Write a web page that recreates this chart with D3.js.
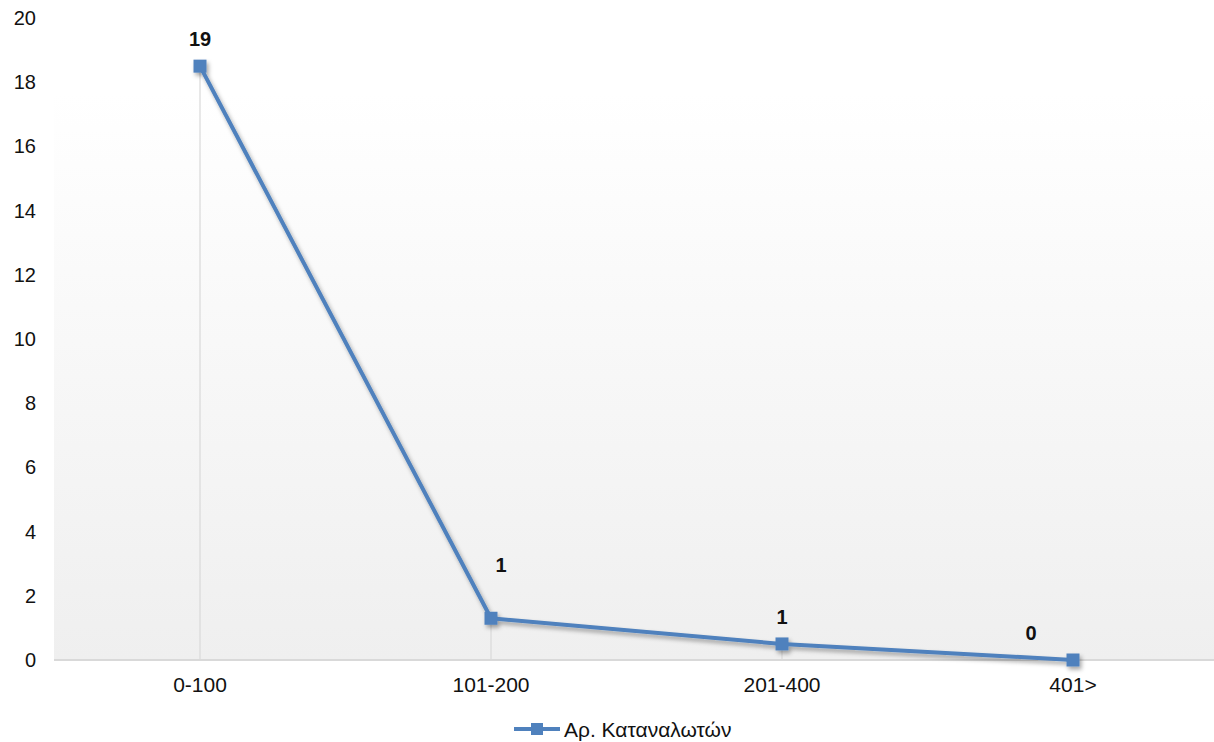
<!DOCTYPE html>
<html><head><meta charset="utf-8">
<script src="https://cdn.jsdelivr.net/npm/d3@7/dist/d3.min.js"></script>
<style>
html,body{margin:0;padding:0;background:#fff;}
text{font-family:"Liberation Sans",Arial,sans-serif;}
</style></head>
<body>
<svg id="chart" width="1214" height="742"></svg>
<script>
const categories = ["0-100", "101-200", "201-400", "401>"];
const values = [18.5, 1.3, 0.5, 0];
const valueLabels = ["19", "1", "1", "0"];
const yTicks = [0, 2, 4, 6, 8, 10, 12, 14, 16, 18, 20];
const seriesName = "Αρ. Καταναλωτών";
// label nudges (layout, px)
const labelDx = [0, 10, 0, -42];
const labelDy = [-27, -53, -27, -27];

const svg = d3.select("#chart");
const color = "#4f81bd";
const x = d3.scaleBand().domain(categories).range([54.5, 1218.5]);
const y = d3.scaleLinear().domain([0, 20]).range([660, 18]);
const cx = c => x(c) + x.bandwidth() / 2;

const defs = svg.append("defs");
const grad = defs.append("linearGradient").attr("id", "bg").attr("x1", 0).attr("y1", 0).attr("x2", 0).attr("y2", 1);
grad.append("stop").attr("offset", "0%").attr("stop-color", "#ffffff");
grad.append("stop").attr("offset", "100%").attr("stop-color", "#efefef");
const f = defs.append("filter").attr("id", "sh").attr("x", "-20%").attr("y", "-20%").attr("width", "140%").attr("height", "140%");
f.append("feDropShadow").attr("dx", 2).attr("dy", 3).attr("stdDeviation", 2).attr("flood-color", "#000").attr("flood-opacity", 0.35);

svg.append("rect").attr("x", 54).attr("y", 93).attr("width", 1214 - 54).attr("height", y(0) - 93).attr("fill", "url(#bg)");

// drop lines
svg.append("g").selectAll("line").data(categories).join("line")
  .attr("x1", d => cx(d)).attr("x2", d => cx(d))
  .attr("y1", (d, i) => y(values[i])).attr("y2", y(0))
  .attr("stroke", "#d9d9d9").attr("stroke-width", 1.2);

// baseline
svg.append("line").attr("x1", 54).attr("x2", 1214).attr("y1", y(0)).attr("y2", y(0))
  .attr("stroke", "#d9d9d9").attr("stroke-width", 2);

// y axis
const yAxis = svg.append("g").attr("transform", "translate(36,0)")
  .call(d3.axisLeft(y).tickValues(yTicks).tickSize(0).tickPadding(0));
yAxis.select(".domain").remove();
yAxis.selectAll("text").attr("font-size", 20).attr("fill", "#111").attr("font-family", "Liberation Sans, Arial, sans-serif");

// x axis
const xAxis = svg.append("g").attr("transform", `translate(0,${y(0)})`)
  .call(d3.axisBottom(x).tickSize(0).tickPadding(17));
xAxis.select(".domain").remove();
xAxis.selectAll("text").attr("font-size", 21).attr("fill", "#111").attr("font-family", "Liberation Sans, Arial, sans-serif");

// line
const g = svg.append("g").attr("filter", "url(#sh)");
g.append("path").datum(categories)
  .attr("fill", "none").attr("stroke", color).attr("stroke-width", 4).attr("stroke-linejoin", "round")
  .attr("d", d3.line().x(d => cx(d)).y((d, i) => y(values[i])));
g.selectAll("rect").data(categories).join("rect")
  .attr("x", d => cx(d) - 6.5).attr("y", (d, i) => y(values[i]) - 6.5)
  .attr("width", 13).attr("height", 13).attr("fill", color);

// data labels
svg.append("g").selectAll("text").data(categories).join("text")
  .attr("x", (d, i) => cx(d) + labelDx[i]).attr("y", (d, i) => y(values[i]) + labelDy[i])
  .attr("text-anchor", "middle").attr("dominant-baseline", "central")
  .attr("font-size", 20).attr("font-weight", "bold").attr("fill", "#111")
  .text((d, i) => valueLabels[i]);

// legend
const lg = svg.append("g").attr("transform", "translate(514,729)");
lg.append("line").attr("x1", 0).attr("x2", 46).attr("y1", 0).attr("y2", 0).attr("stroke", color).attr("stroke-width", 4);
lg.append("rect").attr("x", 23 - 6).attr("y", -6).attr("width", 12).attr("height", 12).attr("fill", color);
lg.append("text").attr("x", 50).attr("y", 0).attr("dominant-baseline", "central")
  .attr("font-size", 21).attr("fill", "#111").text(seriesName);
</script>
</body></html>
